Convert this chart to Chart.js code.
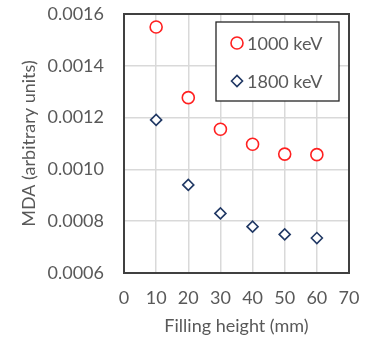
<!DOCTYPE html>
<html>
<head>
<meta charset="utf-8">
<script src="https://cdn.jsdelivr.net/npm/chart.js@4/dist/chart.umd.min.js"></script>
<style>
  html, body { margin: 0; padding: 0; background: #fff; }
  #wrap { width: 366px; height: 341px; }
</style>
</head>
<body>
<div id="wrap"><canvas id="grafico" width="366" height="341"></canvas></div>
<script>
// dados
const alturas = [10, 20, 30, 40, 50, 60];
const mda1000 = [0.00155, 0.001277, 0.001155, 0.001097, 0.001059, 0.001057];
const mda1800 = [0.001191, 0.00094, 0.00083, 0.000779, 0.000749, 0.000735];
const rotulos = ['1000 keV', '1800 keV'];

const cinza = '#595959';
const fonte = { family: 'Lato', size: 18 };

// moldura da área do gráfico
const moldura = {
  id: 'moldura',
  afterDatasetsDraw(chart) {
    const { ctx, chartArea: a } = chart;
    ctx.save();
    ctx.strokeStyle = '#404040';
    ctx.lineWidth = 2;
    ctx.strokeRect(a.left, a.top, a.right - a.left, a.bottom - a.top);
    ctx.restore();
  }
};

// legenda com caixa dentro do gráfico
const legendaCaixa = {
  id: 'legendaCaixa',
  afterDraw(chart) {
    const ctx = chart.ctx;
    ctx.save();
    ctx.fillStyle = '#fff';
    ctx.fillRect(216, 22, 123, 79);
    ctx.strokeStyle = '#262626';
    ctx.lineWidth = 1.3;
    ctx.strokeRect(216, 22, 123, 79);
    const ys = [43, 81];
    chart.data.datasets.forEach((ds, i) => {
      ctx.strokeStyle = ds.borderColor;
      ctx.fillStyle = '#fff';
      ctx.lineWidth = ds.borderWidth;
      Chart.helpers.drawPoint(ctx, { pointStyle: ds.pointStyle, radius: ds.pointRadius, borderWidth: ds.borderWidth }, 237, ys[i]);
      ctx.fillStyle = cinza;
      ctx.font = fonte.size + 'px ' + fonte.family;
      ctx.textBaseline = 'middle';
      ctx.fillText(ds.label, 247, ys[i] + 1);
    });
    ctx.restore();
  }
};

new Chart(document.getElementById('grafico'), {
  type: 'scatter',
  data: {
    datasets: [
      {
        label: rotulos[0],
        data: alturas.map((x, i) => ({ x, y: mda1000[i] })),
        pointStyle: 'circle',
        pointRadius: 6,
        borderColor: '#ff2020',
        backgroundColor: '#fff',
        borderWidth: 1.6
      },
      {
        label: rotulos[1],
        data: alturas.map((x, i) => ({ x, y: mda1800[i] })),
        pointStyle: 'rectRot',
        pointRadius: 5.5,
        borderColor: '#203864',
        backgroundColor: '#fff',
        borderWidth: 1.6
      }
    ]
  },
  options: {
    responsive: false,
    animation: false,
    layout: { padding: { top: 14, right: 17, left: 18, bottom: 0 } },
    plugins: { legend: { display: false }, tooltip: { enabled: false } },
    scales: {
      x: {
        type: 'linear',
        min: 0, max: 70,
        ticks: { stepSize: 10, color: cinza, font: fonte, padding: 14 },
        grid: { color: '#d9d9d9', lineWidth: 1.5, drawTicks: false },
        border: { display: false },
        title: { display: true, text: 'Filling height (mm)', color: cinza, font: fonte, padding: { top: 7, bottom: 4 } },
        afterFit(s) { s.height = 68; s.paddingLeft = 0; s.paddingRight = 0; }
      },
      y: {
        min: 0.0006, max: 0.0016,
        ticks: { stepSize: 0.0002, color: cinza, font: fonte, padding: 20, callback: v => v.toFixed(4) },
        grid: { color: '#d9d9d9', lineWidth: 1.5, drawTicks: false },
        border: { display: false },
        title: { display: true, text: 'MDA (arbitrary units)', color: cinza, font: fonte, padding: { top: 0, bottom: 2 } },
        afterFit(s) { s.width = 106; s.paddingTop = 0; s.paddingBottom = 0; }
      }
    }
  },
  plugins: [moldura, legendaCaixa]
});
</script>
</body>
</html>
